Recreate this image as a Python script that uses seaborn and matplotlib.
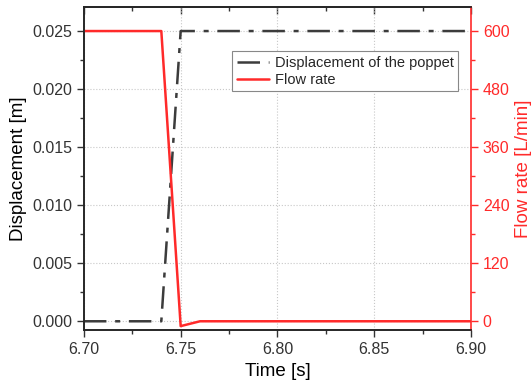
import matplotlib
matplotlib.use("Agg")
import matplotlib.pyplot as plt
import seaborn as sns
import pandas as pd
from matplotlib.ticker import MultipleLocator, AutoMinorLocator

# data
time = [6.70, 6.74, 6.75, 6.76, 6.80, 6.85, 6.90]
displacement = [0.0, 0.0, 0.025, 0.025, 0.025, 0.025, 0.025]
flow_rate = [600, 600, -10, 0, 0, 0, 0]

df = pd.DataFrame({"time": time, "disp": displacement, "flow": flow_rate})

sns.set_theme(style="ticks")
plt.rcParams["font.family"] = ["Liberation Sans", "DejaVu Sans"]

red = "#ff2a2a"
dark = "#3c3c3c"

fig, ax = plt.subplots(figsize=(5.31, 3.90), dpi=100)
fig.subplots_adjust(left=0.158, right=0.887, top=0.982, bottom=0.153)

sns.lineplot(data=df, x="time", y="disp", ax=ax, color=dark, lw=1.8,
             label="Displacement of the poppet")
ax.lines[0].set_dashes([9, 3.5, 2, 3.5])

ax2 = ax.twinx()
sns.lineplot(data=df, x="time", y="flow", ax=ax2, color=red, lw=1.8,
             label="Flow rate")

ax.set_xlim(6.70, 6.90)
ylo, yhi = -0.00078, 0.02707
ax.set_ylim(ylo, yhi)
ax2.set_ylim(ylo * 24000, yhi * 24000)

ax.xaxis.set_major_locator(MultipleLocator(0.05))
ax.xaxis.set_minor_locator(AutoMinorLocator(2))
ax.yaxis.set_major_locator(MultipleLocator(0.005))
ax.yaxis.set_minor_locator(AutoMinorLocator(2))
ax2.yaxis.set_major_locator(MultipleLocator(120))
ax2.yaxis.set_minor_locator(AutoMinorLocator(2))
ax.xaxis.set_major_formatter(plt.FormatStrFormatter("%.2f"))
ax.yaxis.set_major_formatter(plt.FormatStrFormatter("%.3f"))

ax.grid(True, which="major", color="#c8c8c8", ls=":", lw=0.8)
ax.tick_params(axis="both", which="both", direction="out", labelsize=11.5,
               colors="#333333")
ax.tick_params(which="major", length=5, width=1)
ax.tick_params(which="minor", length=3, width=1)
# top ticks point inward
ax.tick_params(axis="x", which="both", top=True)
ax.xaxis.set_tick_params(which="both", direction="out")
ax_top = ax.secondary_xaxis("top")
ax_top.set_xticks(ax.get_xticks())
ax_top.xaxis.set_minor_locator(AutoMinorLocator(2))
ax_top.tick_params(which="both", direction="in", labeltop=False, colors="#333333")
ax_top.tick_params(which="major", length=5, width=1)
ax_top.tick_params(which="minor", length=3, width=1)
ax_top.spines["top"].set_color("#333333")
ax_top.spines["top"].set_linewidth(1.2)
ax.tick_params(axis="x", which="both", top=False)

ax2.tick_params(axis="y", which="both", colors=red, labelsize=11.5, width=1)
ax2.tick_params(which="major", length=5)
ax2.tick_params(which="minor", length=3)
for side in ["left", "bottom", "top"]:
    ax.spines[side].set_color("#333333")
    ax.spines[side].set_linewidth(1.2)
ax2.spines["right"].set_color(red)
ax2.spines["right"].set_linewidth(1.2)
ax.spines["right"].set_visible(False)

ax.set_xlabel("Time [s]", fontsize=13.5, color="black")
ax.set_ylabel("Displacement [m]", fontsize=13.5, color="black")
ax2.set_ylabel("Flow rate [L/min]", fontsize=13.5, color=red)

h1, l1 = ax.get_legend_handles_labels()
h2, l2 = ax2.get_legend_handles_labels()
ax.get_legend().remove()
ax2.get_legend().remove()
leg = ax2.legend(h1 + h2, l1 + l2, loc="upper right", bbox_to_anchor=(0.985, 0.885),
                 fontsize=10.5, frameon=True, fancybox=False, framealpha=1,
                 edgecolor="#888888", handlelength=2.2, borderpad=0.3,
                 labelspacing=0.2, handletextpad=0.4)
leg.get_frame().set_linewidth(0.8)

fig.savefig("out.png", dpi=100)
